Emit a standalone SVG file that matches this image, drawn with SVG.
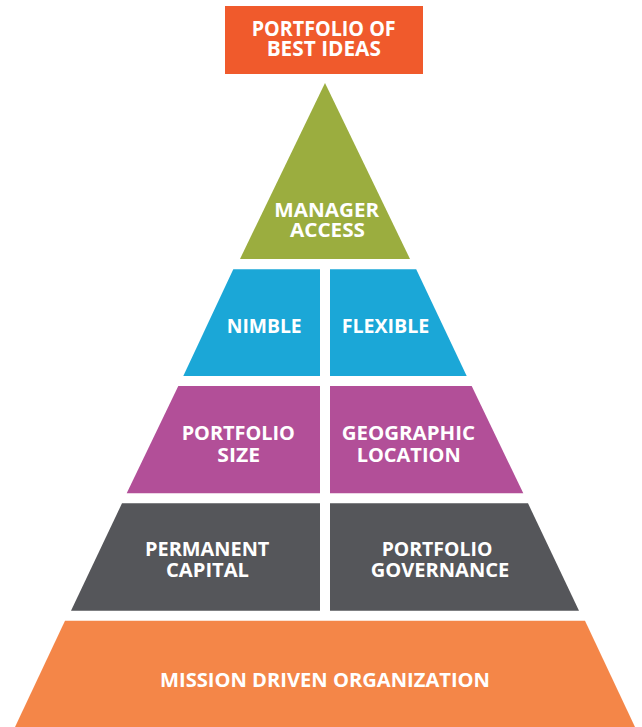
<svg xmlns="http://www.w3.org/2000/svg" width="642" height="727" viewBox="0 0 642 727">
<style>
  text { font-family: "Open Sans", "Lato", "Liberation Sans", sans-serif; font-weight: 700; fill: #ffffff; text-anchor: middle; font-size: 20px; }
  .big { font-size: 21px; }
</style>
<rect width="642" height="727" fill="#ffffff"/>
<g id="best-ideas">
  <rect x="225" y="6" width="198" height="68" fill="#F05A2C"/>
  <text class="big" x="323.7" y="36" textLength="144" lengthAdjust="spacingAndGlyphs">PORTFOLIO OF</text>
  <text class="big" x="323.8" y="56" textLength="114.3" lengthAdjust="spacingAndGlyphs">BEST IDEAS</text>
</g>
<g id="manager-access">
  <polygon points="325,83 410,259 240,259" fill="#9BAD3F"/>
  <text x="326.7" y="216.7" textLength="104.7" lengthAdjust="spacingAndGlyphs">MANAGER</text>
  <text x="327.5" y="236.7" textLength="75" lengthAdjust="spacingAndGlyphs">ACCESS</text>
</g>
<g id="nimble">
  <polygon points="233.3,269.3 320,269.3 320,376 183.3,376" fill="#1BA7D7"/>
  <text x="264.2" y="332.7" textLength="75" lengthAdjust="spacingAndGlyphs">NIMBLE</text>
</g>
<g id="flexible">
  <polygon points="330,269.3 416.2,269.3 466.7,376 330,376" fill="#1BA7D7"/>
  <text x="385.5" y="332.7" textLength="87.7" lengthAdjust="spacingAndGlyphs">FLEXIBLE</text>
</g>
<g id="portfolio-size">
  <polygon points="178.3,386 320,386 320,493.3 126.7,493.3" fill="#B24F98"/>
  <text x="238.3" y="440" textLength="113.3" lengthAdjust="spacingAndGlyphs">PORTFOLIO</text>
  <text x="238.7" y="461.5" textLength="42.7" lengthAdjust="spacingAndGlyphs">SIZE</text>
</g>
<g id="geographic-location">
  <polygon points="330,386 471.7,386 523.3,493.3 330,493.3" fill="#B24F98"/>
  <text x="408.3" y="440" textLength="133.3" lengthAdjust="spacingAndGlyphs">GEOGRAPHIC</text>
  <text x="408.7" y="461.5" textLength="104" lengthAdjust="spacingAndGlyphs">LOCATION</text>
</g>
<g id="permanent-capital">
  <polygon points="122,503.3 320,503.3 320,610.7 71,610.7" fill="#55565A"/>
  <text x="207.2" y="556" textLength="124.3" lengthAdjust="spacingAndGlyphs">PERMANENT</text>
  <text x="207.5" y="576.7" textLength="83" lengthAdjust="spacingAndGlyphs">CAPITAL</text>
</g>
<g id="portfolio-governance">
  <polygon points="330,503.3 528,503.3 579,610.7 330,610.7" fill="#55565A"/>
  <text x="437" y="556" textLength="110.7" lengthAdjust="spacingAndGlyphs">PORTFOLIO</text>
  <text x="440" y="576.7" textLength="138.7" lengthAdjust="spacingAndGlyphs">GOVERNANCE</text>
</g>
<g id="mission-driven-organization">
  <polygon points="65,620.7 585,620.7 635,727 15,727" fill="#F48648"/>
  <text x="325" y="686.7" textLength="330" lengthAdjust="spacingAndGlyphs">MISSION DRIVEN ORGANIZATION</text>
</g>
</svg>
